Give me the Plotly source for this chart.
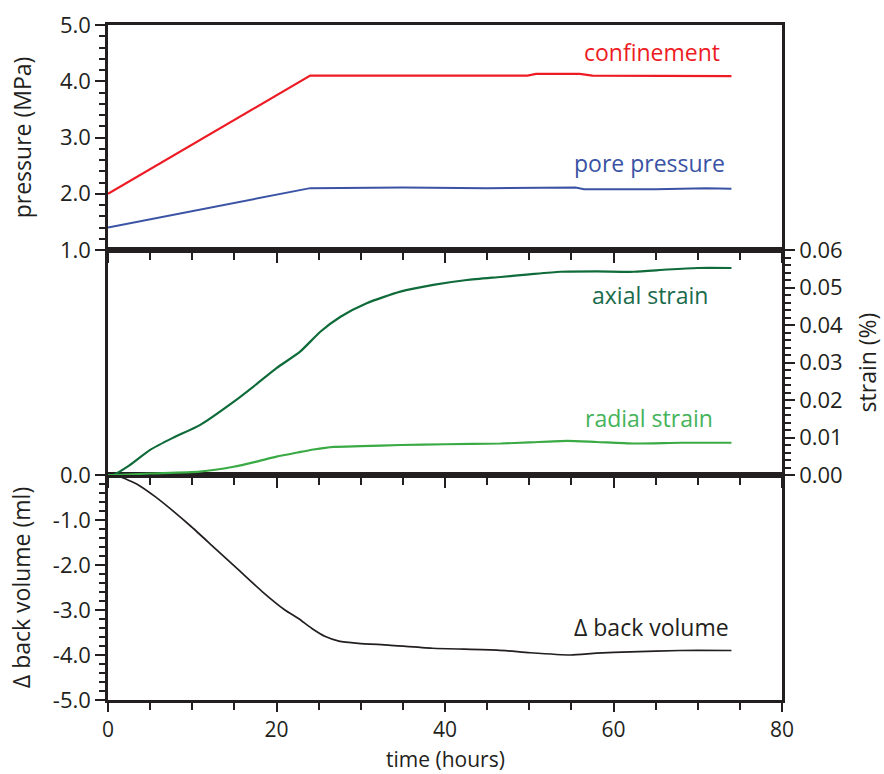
import plotly.graph_objects as go

# ---- data -------------------------------------------------------------
# pressures (MPa)
t_conf = [0, 24.0, 30, 40, 49.8, 50.8, 56.0, 57.5, 65, 74]
p_conf = [2.0, 4.10, 4.10, 4.10, 4.10, 4.13, 4.13, 4.10, 4.10, 4.09]

t_pore = [0, 24.0, 35, 45, 55.5, 56.5, 65, 69, 71, 74]
p_pore = [1.40, 2.10, 2.11, 2.10, 2.11, 2.08, 2.08, 2.09, 2.10, 2.09]

# strains (%)
t_axial = [0, 0.6, 2.5, 5.0, 7.7, 10.9, 14.9, 17.5, 20.0, 22.8, 25.2, 27.6,
           30.7, 34.7, 38.6, 42.6, 46.6, 50.0, 53.7, 58.0, 62.4, 66.4, 70.0, 74.0]
axial = [0, 0, 0.0025, 0.0067, 0.0099, 0.0133, 0.0195, 0.0240, 0.0285, 0.0329,
         0.0382, 0.0422, 0.0458, 0.0489, 0.0507, 0.0520, 0.0528, 0.0535, 0.0542,
         0.0543, 0.0542, 0.0548, 0.0552, 0.0552]

t_radial = [0, 0.6, 5.0, 10.9, 14.9, 17.5, 20.0, 22.5, 24.4, 26.8, 30.0, 34.7,
            40.0, 46.6, 50.0, 54.5, 58.0, 62.4, 68.0, 74.0]
radial = [0, 0, 0.0004, 0.0009, 0.0022, 0.0035, 0.0049, 0.0060, 0.0068, 0.0075,
          0.0077, 0.0080, 0.0082, 0.0084, 0.0087, 0.0091, 0.0088, 0.0084, 0.0086, 0.0086]

# change of back volume (ml)
t_back = [0, 1.4, 3.6, 5.6, 7.6, 9.9, 12.7, 15.5, 18.3, 21.0, 22.6, 24.2, 25.8,
          27.4, 29.7, 33.3, 38.5, 46.2, 50.1, 54.9, 58.0, 62.0, 67.9, 74.0]
back = [0, -0.04, -0.22, -0.48, -0.78, -1.15, -1.63, -2.11, -2.59, -3.00, -3.19,
        -3.41, -3.59, -3.69, -3.74, -3.78, -3.85, -3.89, -3.95, -4.00, -3.96,
        -3.93, -3.90, -3.90]

# tick labels
time_ticks = [0, 20, 40, 60, 80]
pressure_ticks = [1, 2, 3, 4, 5]
pressure_text = ["1.0", "2.0", "3.0", "4.0", "5.0"]
strain_ticks = [0, 0.01, 0.02, 0.03, 0.04, 0.05, 0.06]
strain_text = ["0.00", "0.01", "0.02", "0.03", "0.04", "0.05", "0.06"]
volume_ticks = [0, -1, -2, -3, -4, -5]
volume_text = ["0.0", "-1.0", "-2.0", "-3.0", "-4.0", "-5.0"]

# ---- styling ----------------------------------------------------------
INK = "#231f20"
RED = "#ed1c24"
BLUE = "#3a53a4"
DKGREEN = "#0f6b3a"
LTGREEN = "#3aaa45"
FONT = "Open Sans"
FS = 22      # tick labels
FT = 23      # axis titles and series labels

fig = go.Figure()

fig.add_trace(go.Scatter(x=t_conf, y=p_conf, mode="lines", line=dict(color=RED, width=2.2),
                         xaxis="x3", yaxis="y3"))
fig.add_trace(go.Scatter(x=t_pore, y=p_pore, mode="lines", line=dict(color=BLUE, width=2),
                         xaxis="x3", yaxis="y3"))
fig.add_trace(go.Scatter(x=t_axial, y=axial, mode="lines",
                         line=dict(color=DKGREEN, width=2.2, shape="spline", smoothing=0.6),
                         xaxis="x2", yaxis="y2"))
fig.add_trace(go.Scatter(x=t_radial, y=radial, mode="lines",
                         line=dict(color=LTGREEN, width=2.2, shape="spline", smoothing=0.6),
                         xaxis="x2", yaxis="y2"))
fig.add_trace(go.Scatter(x=t_back, y=back, mode="lines",
                         line=dict(color=INK, width=1.7, shape="spline", smoothing=0.6),
                         xaxis="x", yaxis="y"))

common_x = dict(range=[0, 80], showline=True, linewidth=2.5, linecolor=INK, mirror=True,
                ticks="outside", ticklen=10, tickwidth=2, tickcolor=INK,
                tickvals=time_ticks, showgrid=False, zeroline=False, automargin=False,
                minor=dict(dtick=5, ticks="outside", ticklen=7, tickwidth=2, tickcolor=INK,
                           showgrid=False))
common_y = dict(showline=True, linewidth=2.5, linecolor=INK, mirror=True,
                ticks="outside", ticklen=10, tickwidth=2, tickcolor=INK,
                showgrid=False, zeroline=False, automargin=False,
                tickfont=dict(family=FONT, size=FS, color=INK))

fig.update_layout(
    width=884, height=774,
    margin=dict(l=108, r=102, t=25, b=74),
    paper_bgcolor="white", plot_bgcolor="white",
    showlegend=False,
    font=dict(family=FONT, size=FS, color=INK),
    xaxis=dict({**common_x, "ticklen": 9}, anchor="y", showticklabels=True,
               ticklabelstandoff=0,
               tickfont=dict(family=FONT, size=21, color=INK)),
    xaxis2=dict(**common_x, anchor="y2", matches="x", showticklabels=False),
    xaxis3=dict(**common_x, anchor="y3", matches="x", showticklabels=False),
    yaxis=dict(**common_y, domain=[0, 1/3], range=[-5, 0], anchor="x",
               tickvals=volume_ticks, ticktext=volume_text,
               minor=dict(dtick=0.2, ticks="outside", ticklen=6, tickwidth=2,
                          tickcolor=INK, showgrid=False),
               title=dict(text="Δ back volume (ml)", standoff=16,
                          font=dict(family=FONT, size=FT, color=INK))),
    yaxis2=dict(showline=True, linewidth=2.5, linecolor=INK, mirror=True,
                domain=[1/3, 2/3], range=[0, 0.06], anchor="x2", side="right",
                ticks="outside", ticklen=10, tickwidth=2, tickcolor=INK,
                tickvals=strain_ticks, ticktext=strain_text,
                tickfont=dict(family=FONT, size=FS, color=INK),
                showgrid=False, zeroline=False, automargin=False,
                minor=dict(dtick=0.002, ticks="outside", ticklen=6, tickwidth=2,
                           tickcolor=INK, showgrid=False),
                title=dict(text="strain (%)", standoff=18,
                           font=dict(family=FONT, size=FT, color=INK))),
    yaxis3=dict(**common_y, domain=[2/3, 1], range=[1, 5], anchor="x3",
                tickvals=pressure_ticks, ticktext=pressure_text,
                minor=dict(dtick=0.2, ticks="outside", ticklen=6, tickwidth=2,
                           tickcolor=INK, showgrid=False),
                title=dict(text="pressure (MPa)", standoff=22,
                           font=dict(family=FONT, size=FT, color=INK))),
)

# x-axis title placed just under the tick labels
fig.add_annotation(text="time (hours)", xref="paper", yref="paper", x=0.5, y=0,
                   xanchor="center", yanchor="top", yshift=-44, borderpad=0,
                   showarrow=False, font=dict(family=FONT, size=21, color=INK))

# series labels
labels = [
    ("confinement", 72.9, 4.52, "x3", "y3", RED),
    ("pore pressure", 73.5, 2.55, "x3", "y3", BLUE),
    ("axial strain", 71.4, 0.048, "x2", "y2", "#1a6b4c"),
    ("radial strain", 72.1, 0.0152, "x2", "y2", "#45b35a"),
    ("Δ back volume", 74.0, -3.38, "x", "y", INK),
]
for text, x, y, xr, yr, col in labels:
    fig.add_annotation(text=text, x=x, y=y, xref=xr, yref=yr, xanchor="right",
                       yanchor="middle", showarrow=False,
                       font=dict(family=FONT, size=FT, color=col))

fig.write_html("out.html")
